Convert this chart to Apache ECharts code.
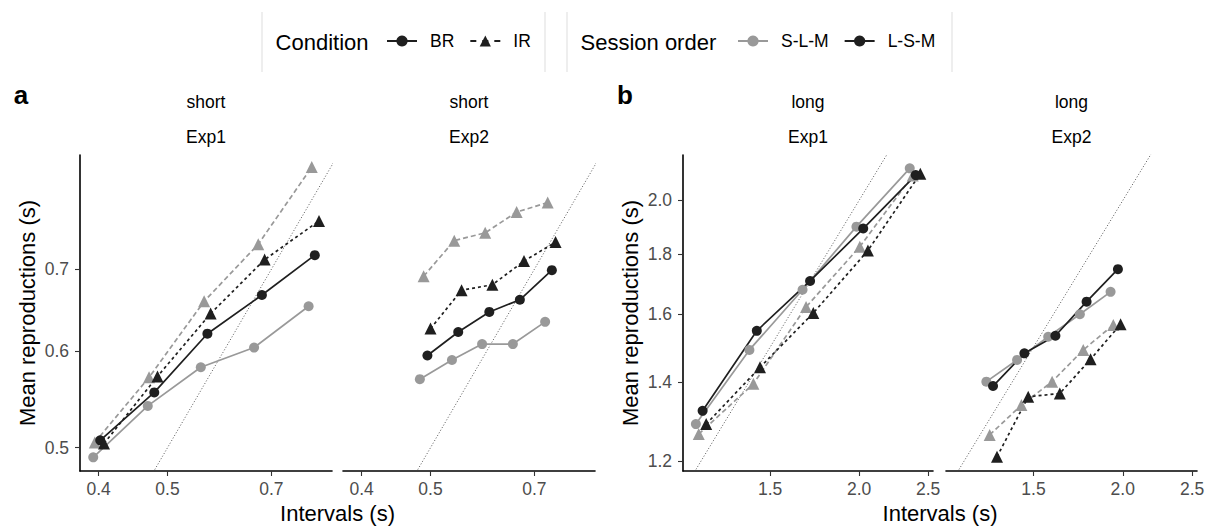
<!DOCTYPE html>
<html><head><meta charset="utf-8">
<script src="https://cdn.jsdelivr.net/npm/echarts@6/dist/echarts.min.js"></script>
<style>html,body{margin:0;padding:0;background:#fff}#c{width:1208px;height:528px}</style>
</head><body><div id="c"></div>
<script>
// ---------- DATA (intervals x, mean reproductions y, seconds) ----------
// short / Exp1
const shortExp1_BR_SLM_x = [0.393, 0.469, 0.557, 0.662, 0.790];
const shortExp1_BR_SLM_y = [0.491, 0.541, 0.582, 0.604, 0.653];
const shortExp1_BR_LSM_x = [0.402, 0.479, 0.569, 0.679, 0.806];
const shortExp1_BR_LSM_y = [0.507, 0.555, 0.620, 0.667, 0.719];
const shortExp1_IR_SLM_x = [0.395, 0.471, 0.563, 0.671, 0.798];
const shortExp1_IR_SLM_y = [0.505, 0.571, 0.659, 0.734, 0.849];
const shortExp1_IR_LSM_x = [0.407, 0.484, 0.575, 0.685, 0.817];
const shortExp1_IR_LSM_y = [0.504, 0.572, 0.644, 0.713, 0.767];
// short / Exp2
const shortExp2_BR_SLM_x = [0.483, 0.536, 0.591, 0.653, 0.725];
const shortExp2_BR_SLM_y = [0.569, 0.590, 0.608, 0.608, 0.634];
const shortExp2_BR_LSM_x = [0.495, 0.547, 0.605, 0.668, 0.741];
const shortExp2_BR_LSM_y = [0.595, 0.622, 0.646, 0.661, 0.699];
const shortExp2_IR_SLM_x = [0.489, 0.540, 0.597, 0.661, 0.731];
const shortExp2_IR_SLM_y = [0.691, 0.739, 0.750, 0.780, 0.794];
const shortExp2_IR_LSM_x = [0.500, 0.553, 0.611, 0.677, 0.750];
const shortExp2_IR_LSM_y = [0.626, 0.673, 0.680, 0.711, 0.737];
// long / Exp1
const longExp1_BR_SLM_x = [1.180, 1.403, 1.666, 1.983, 2.356];
const longExp1_BR_SLM_y = [1.290, 1.492, 1.679, 1.900, 2.130];
const longExp1_BR_LSM_x = [1.206, 1.437, 1.707, 2.027, 2.402];
const longExp1_BR_LSM_y = [1.324, 1.549, 1.708, 1.893, 2.102];
const longExp1_IR_SLM_x = [1.191, 1.421, 1.685, 2.005, 2.379];
const longExp1_IR_SLM_y = [1.265, 1.396, 1.623, 1.827, 2.100];
const longExp1_IR_LSM_x = [1.220, 1.452, 1.725, 2.058, 2.438];
const longExp1_IR_LSM_y = [1.290, 1.442, 1.604, 1.813, 2.108];
// long / Exp2
const longExp2_BR_SLM_x = [1.289, 1.423, 1.573, 1.742, 1.923];
const longExp2_BR_SLM_y = [1.402, 1.463, 1.531, 1.600, 1.672];
const longExp2_BR_LSM_x = [1.317, 1.457, 1.610, 1.780, 1.969];
const longExp2_BR_LSM_y = [1.390, 1.482, 1.534, 1.640, 1.748];
const longExp2_IR_SLM_x = [1.303, 1.443, 1.593, 1.761, 1.940];
const longExp2_IR_SLM_y = [1.263, 1.339, 1.402, 1.492, 1.567];
const longExp2_IR_LSM_x = [1.334, 1.475, 1.633, 1.803, 1.986];
const longExp2_IR_LSM_y = [1.210, 1.361, 1.370, 1.465, 1.569];

// axis ranges & tick labels
const shortXRange = [0.3765, 0.8522];
const shortYRange = [0.4785, 0.8686];
const longXRange = [1.1319, 2.540];
const longYRange = [1.1767, 2.1866];
const shortXTicks = [0.4, 0.5, 0.7];
const shortYTicks = [0.5, 0.6, 0.7];
const longXTicks = [1.5, 2.0, 2.5];
const longYTicks = [1.2, 1.4, 1.6, 1.8, 2.0];
// identity (y = x) reference line extent
const shortIdentity = [0.3, 1.0];
const longIdentity = [1.0, 2.8];

const panelTitlesTop = ['short', 'short', 'long', 'long'];
const panelTitlesBottom = ['Exp1', 'Exp2', 'Exp1', 'Exp2'];
const conditionNames = ['BR', 'IR'];
const orderNames = ['S-L-M', 'L-S-M'];

// ---------- STYLE ----------
const FONT = '"Liberation Sans", Arial, Helvetica, sans-serif';
const GREY = '#999999', BLACK = '#1f1f1f';
const grids = [
  {left: 80, top: 155, width: 252, height: 316},
  {left: 343, top: 155, width: 252, height: 316},
  {left: 683, top: 155, width: 250, height: 316},
  {left: 946, top: 155, width: 251, height: 316}
];
grids.forEach(g => { g.outerBoundsMode = 'none'; g.containLabel = false; });

function zip(x, y) { return x.map((v, i) => [v, y[i]]); }
const fmt = v => Number(v).toFixed(1);

function xAx(i, range, ticks) {
  return {
    type: 'log', logBase: 10, gridIndex: i, min: range[0], max: range[1],
    axisLine: {show: true, onZero: false, lineStyle: {color: '#000', width: 1.6}},
    axisTick: {show: true, length: 5, customValues: ticks, lineStyle: {color: '#333', width: 1.1}},
    axisLabel: {show: true, customValues: ticks, margin: 9, color: '#4d4d4d', fontSize: 17.5, fontFamily: FONT, formatter: fmt},
    splitLine: {show: false}, minorTick: {show: false}, minorSplitLine: {show: false}
  };
}
function yAx(i, range, ticks, visible) {
  const a = {
    type: 'log', logBase: 10, gridIndex: i, min: range[0], max: range[1],
    show: visible,
    axisLine: {show: true, onZero: false, lineStyle: {color: '#000', width: 1.6}},
    axisTick: {show: true, length: 5, customValues: ticks, lineStyle: {color: '#333', width: 1.1}},
    axisLabel: {show: true, customValues: ticks, margin: 11, color: '#4d4d4d', fontSize: 17.5, fontFamily: FONT, formatter: fmt},
    splitLine: {show: false}, minorTick: {show: false}, minorSplitLine: {show: false}
  };
  if (visible) {
    a.name = 'Mean reproductions (s)';
    a.nameLocation = 'middle';
    a.nameGap = 42;
    a.nameRotate = 90;
    a.nameTextStyle = {fontSize: 22, color: '#000', fontFamily: FONT};
  }
  return a;
}

function ser(name, xi, x, y, color, dashed, symbol) {
  return {
    type: 'line', name: name, xAxisIndex: xi, yAxisIndex: xi,
    data: zip(x, y), symbol: symbol, symbolSize: symbol === 'circle' ? 10 : 12,
    showSymbol: true, clip: false,
    lineStyle: {color: color, width: 1.7, type: dashed ? (color === GREY ? [5, 3] : [3, 3]) : 'solid'},
    itemStyle: {color: color}, emphasis: {disabled: true}, silent: true
  };
}
function identity(xi, r) {
  return {
    type: 'line', name: 'identity' + xi, xAxisIndex: xi, yAxisIndex: xi,
    data: [[r[0], r[0]], [r[1], r[1]]], symbol: 'none', clip: true, silent: true,
    lineStyle: {color: '#444', width: 0.9, type: [1, 2]}, z: 1
  };
}

const series = [
  identity(0, shortIdentity), identity(1, shortIdentity), identity(2, longIdentity), identity(3, longIdentity),
  ser('p1 BR S-L-M', 0, shortExp1_BR_SLM_x, shortExp1_BR_SLM_y, GREY, false, 'circle'),
  ser('p1 IR S-L-M', 0, shortExp1_IR_SLM_x, shortExp1_IR_SLM_y, GREY, true, 'triangle'),
  ser('p1 BR L-S-M', 0, shortExp1_BR_LSM_x, shortExp1_BR_LSM_y, BLACK, false, 'circle'),
  ser('p1 IR L-S-M', 0, shortExp1_IR_LSM_x, shortExp1_IR_LSM_y, BLACK, true, 'triangle'),
  ser('p2 BR S-L-M', 1, shortExp2_BR_SLM_x, shortExp2_BR_SLM_y, GREY, false, 'circle'),
  ser('p2 IR S-L-M', 1, shortExp2_IR_SLM_x, shortExp2_IR_SLM_y, GREY, true, 'triangle'),
  ser('p2 BR L-S-M', 1, shortExp2_BR_LSM_x, shortExp2_BR_LSM_y, BLACK, false, 'circle'),
  ser('p2 IR L-S-M', 1, shortExp2_IR_LSM_x, shortExp2_IR_LSM_y, BLACK, true, 'triangle'),
  ser('p3 BR S-L-M', 2, longExp1_BR_SLM_x, longExp1_BR_SLM_y, GREY, false, 'circle'),
  ser('p3 IR S-L-M', 2, longExp1_IR_SLM_x, longExp1_IR_SLM_y, GREY, true, 'triangle'),
  ser('p3 BR L-S-M', 2, longExp1_BR_LSM_x, longExp1_BR_LSM_y, BLACK, false, 'circle'),
  ser('p3 IR L-S-M', 2, longExp1_IR_LSM_x, longExp1_IR_LSM_y, BLACK, true, 'triangle'),
  ser('p4 BR S-L-M', 3, longExp2_BR_SLM_x, longExp2_BR_SLM_y, GREY, false, 'circle'),
  ser('p4 IR S-L-M', 3, longExp2_IR_SLM_x, longExp2_IR_SLM_y, GREY, true, 'triangle'),
  ser('p4 BR L-S-M', 3, longExp2_BR_LSM_x, longExp2_BR_LSM_y, BLACK, false, 'circle'),
  ser('p4 IR L-S-M', 3, longExp2_IR_LSM_x, longExp2_IR_LSM_y, BLACK, true, 'triangle'),
  // legend-only entries
  {type: 'line', name: conditionNames[0], data: [], symbol: 'circle', lineStyle: {color: BLACK, width: 2}, itemStyle: {color: BLACK}},
  {type: 'line', name: conditionNames[1], data: [], symbol: 'triangle', lineStyle: {color: BLACK, width: 2, type: [6, 6]}, itemStyle: {color: BLACK}},
  {type: 'line', name: orderNames[0], data: [], symbol: 'circle', lineStyle: {color: GREY, width: 2}, itemStyle: {color: GREY}},
  {type: 'line', name: orderNames[1], data: [], symbol: 'circle', lineStyle: {color: BLACK, width: 2}, itemStyle: {color: BLACK}}
];

const legendCommon = {
  orient: 'horizontal', top: 32, padding: 0, itemWidth: 30, itemHeight: 14, itemGap: 15,
  selectedMode: false,
  textStyle: {fontSize: 17.5, color: '#000', fontFamily: FONT, padding: [0, 0, 0, 8]}
};

const centers = grids.map(g => g.left + g.width / 2);
const graphics = [];
[262, 545, 567, 952].forEach(x => graphics.push({
  type: 'line', shape: {x1: x, y1: 12, x2: x, y2: 72}, style: {stroke: '#dddddd', lineWidth: 1}, silent: true
}));
function txt(t, x, y, size, align, weight) {
  return {type: 'text', x: x, y: y, silent: true,
    style: {text: t, fill: '#000', font: (weight || 'normal') + ' ' + size + 'px ' + FONT,
      align: align, verticalAlign: 'middle', textAlign: align, textVerticalAlign: 'middle'}};
}
graphics.push(txt('Condition', 275.6, 42, 22, 'left'));
graphics.push(txt('Session order', 580.5, 42, 22, 'left'));
graphics.push(txt('a', 21, 95, 26, 'center', 'bold'));
graphics.push(txt('b', 625, 95, 26, 'center', 'bold'));
centers.forEach((cx, i) => {
  graphics.push(txt(panelTitlesTop[i], cx, 102, 17.5, 'center'));
  graphics.push(txt(panelTitlesBottom[i], cx, 137, 17.5, 'center'));
});
graphics.push(txt('Intervals (s)', (grids[0].left + grids[1].left + grids[1].width) / 2, 513, 22, 'center'));
graphics.push(txt('Intervals (s)', (grids[2].left + grids[3].left + grids[3].width) / 2, 513, 22, 'center'));

const option = {
  animation: false,
  backgroundColor: '#fff',
  grid: grids,
  xAxis: [xAx(0, shortXRange, shortXTicks), xAx(1, shortXRange, shortXTicks), xAx(2, longXRange, longXTicks), xAx(3, longXRange, longXTicks)],
  yAxis: [yAx(0, shortYRange, shortYTicks, true), yAx(1, shortYRange, shortYTicks, false), yAx(2, longYRange, longYTicks, true), yAx(3, longYRange, longYTicks, false)],
  legend: [
    Object.assign({}, legendCommon, {left: 386, data: conditionNames}),
    Object.assign({}, legendCommon, {left: 737, data: orderNames})
  ],
  graphic: graphics,
  series: series
};
const chart = echarts.init(document.getElementById('c'), null, {renderer: 'svg'});
chart.setOption(option);
</script>
</body></html>
